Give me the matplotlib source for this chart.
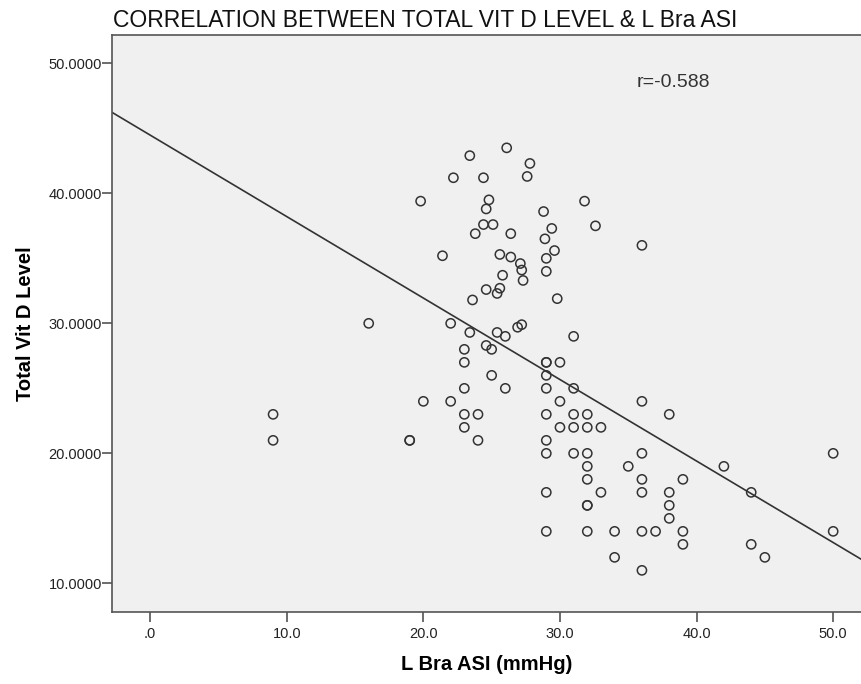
"""
Scatter of total vitamin D level against left brachial ASI,
with a least-squares fit line (SPSS-style look).
"""

import matplotlib
matplotlib.use("Agg")
import matplotlib.pyplot as plt
import numpy as np
from matplotlib.ticker import FuncFormatter

plt.rcParams.update({
    "font.family": ["Liberation Sans", "DejaVu Sans"],
    "figure.facecolor": "white",
})

# L Bra ASI (mmHg)
asi_values = [
    26.1, 23.4, 27.8, 22.2, 24.4, 27.6, 19.8, 24.8, 24.6, 31.8,
    28.8, 32.6, 29.4, 24.4, 25.1, 23.8, 26.4, 28.9, 36.0, 29.6,
    29.0, 29.0, 21.4, 25.6, 26.4, 27.1, 27.2, 27.3, 25.8, 25.6,
    25.4, 24.6, 23.6, 29.8, 22.0, 16.0, 23.4, 25.4, 26.0, 26.9,
    27.2, 31.0, 24.6, 23.0, 25.0,
    9, 9, 19, 19, 20, 22, 23, 24, 23, 24,
    23, 23, 25, 29, 29, 30, 29, 26, 29, 31,
    30, 36, 29, 31, 32, 38, 30, 31, 32, 33,
    29, 29, 31, 32, 36, 50, 32, 35, 42, 32,
    36, 39, 29, 33, 36, 38, 44, 32, 32, 38,
    38, 29, 32, 34, 36, 37, 39, 50, 39, 44,
    34, 45, 36,
]

# Total Vit D Level
vitd_values = [
    43.5, 42.9, 42.3, 41.2, 41.2, 41.3, 39.4, 39.5, 38.8, 39.4,
    38.6, 37.5, 37.3, 37.6, 37.6, 36.9, 36.9, 36.5, 36.0, 35.6,
    35.0, 34.0, 35.2, 35.3, 35.1, 34.6, 34.1, 33.3, 33.7, 32.7,
    32.3, 32.6, 31.8, 31.9, 30.0, 30.0, 29.3, 29.3, 29.0, 29.7,
    29.9, 29.0, 28.3, 28.0, 28.0,
    23, 21, 21, 21, 24, 24, 23, 23, 22, 21,
    25, 27, 26, 27, 27, 27, 26, 25, 25, 25,
    24, 24, 23, 23, 23, 23, 22, 22, 22, 22,
    21, 20, 20, 20, 20, 20, 19, 19, 19, 18,
    18, 18, 17, 17, 17, 17, 17, 16, 16, 16,
    15, 14, 14, 14, 14, 14, 14, 14, 13, 13,
    12, 12, 11,
]

r_label = "r=-0.588"
title = "CORRELATION BETWEEN TOTAL VIT D LEVEL & L Bra ASI"
x_ticks = [0, 10, 20, 30, 40, 50]
y_ticks = [10, 20, 30, 40, 50]

W, H = 862, 684
fig = plt.figure(figsize=(W / 100, H / 100), dpi=100)
# axes box in pixels: left 112, top 35, bottom 612; right side is cut off
ax = fig.add_axes([112.3 / W, (H - 611.7) / H, (W - 112.3) / W, (611.7 - 35) / H])
ax.set_facecolor("#f0f0f0")

x = np.array(asi_values, dtype=float)
y = np.array(vitd_values, dtype=float)

ax.scatter(x, y, s=44, facecolors="none", edgecolors="#333333",
           linewidths=1.1, zorder=3)

ax.set_xlim(-2.77, 52.11)
ax.set_ylim(7.82, 52.18)

# least-squares fit line across the whole x range
slope, intercept = np.polyfit(x, y, 1)
xl = np.array(ax.get_xlim())
ax.plot(xl, intercept + slope * xl, color="#333333", lw=1.2, zorder=2)

ax.text(35.64, 48.18, r_label, fontsize=14, color="#333333", va="baseline")

ax.set_xticks(x_ticks)
ax.set_yticks(y_ticks)
ax.xaxis.set_major_formatter(FuncFormatter(
    lambda v, _: f"{v:.1f}".lstrip("0") if v == 0 else f"{v:.1f}"))
ax.yaxis.set_major_formatter(FuncFormatter(lambda v, _: f"{v:.4f}"))
ax.tick_params(axis="both", direction="out", length=7, width=1.1,
               color="#444444", labelsize=10.5, labelcolor="#222222")
ax.tick_params(axis="y", pad=0.5)
ax.tick_params(axis="x", pad=4)

for side in ("left", "bottom", "top"):
    ax.spines[side].set_color("#555555")
    ax.spines[side].set_linewidth(1.2)
ax.spines["right"].set_visible(False)

ax.set_xlabel("L Bra ASI (mmHg)", fontsize=14.5, fontweight="bold", labelpad=10)
ax.set_ylabel("Total Vit D Level", fontsize=14.5, fontweight="bold", labelpad=10)

fig.text(113 / W, 1 - 27 / H, title, fontsize=16.5, color="#111111",
         ha="left", va="baseline")

fig.savefig("out.png", dpi=100)
